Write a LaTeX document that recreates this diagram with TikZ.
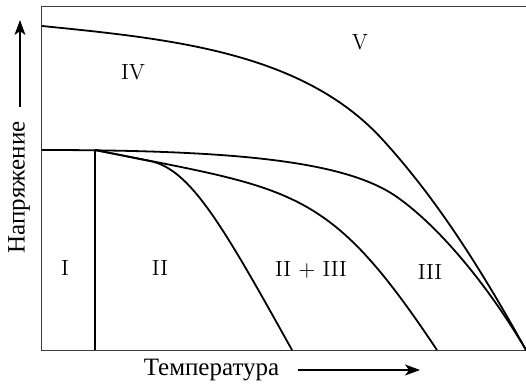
\documentclass[tikz,border=0pt]{standalone}
\usepackage{fontspec}
\usepackage{tikz}
\usetikzlibrary{arrows.meta, positioning}
\newfontfamily\cyrfont{Liberation Serif}
\definecolor{framegrey}{HTML}{3A3A3A}
\tikzset{
  boundary/.style={line width=0.9pt, black},
  frameline/.style={line width=0.5pt, framegrey},
  region/.style={font=\fontsize{11}{13}\selectfont, inner sep=1pt},
  axislabel/.style={font=\cyrfont\fontsize{12.5}{14}\selectfont, inner sep=1pt},
  axisarrow/.style={line width=0.6pt, -{Stealth[length=7.5pt, width=5.5pt, inset=2pt]}}
}

\begin{document}
\begin{tikzpicture}
  \useasboundingbox (-0.738,-0.615) rectangle (8.505,6.151);
  % frame
  \coordinate (origin) at (0,0);
  \coordinate (corner) at (8.505,0);
  \coordinate (topleft) at (0,6.028);
  \coordinate (topright) at (8.505,6.028);
  \draw[frameline] (topright) -- (topleft) -- (origin) -- (corner);
  % phase boundaries
  \coordinate (vstart) at (0,5.694);
  \coordinate (vbend) at (5.992,3.690);
  \coordinate (astart) at (0,3.515);
  \coordinate (abend) at (6.238,2.689);
  \coordinate (triple) at (0.931,3.515);
  \coordinate (csplit) at (1.898,3.321);
  \coordinate (bfoot) at (6.941,0);
  \coordinate (cfoot) at (4.393,0);
  \coordinate (foot) at (0.931,0);
  \draw[boundary] (vstart) .. controls (2.284,5.465) and (4.587,5.237) .. (vbend)
    .. controls (6.871,2.724) and (7.627,1.582) .. (corner);
  \draw[boundary] (astart) .. controls (3.515,3.515) and (5.360,3.304) .. (abend)
    .. controls (6.941,2.197) and (7.802,1.195) .. (corner);
  \draw[boundary] (triple) .. controls (4.446,2.812) and (5.008,2.900) .. (bfoot);
  \draw[boundary] (triple) -- (csplit) .. controls (2.601,3.181) and (3.163,2.214) .. (cfoot);
  \draw[boundary] (triple) -- (foot);
  % regions
  \node[region] (regI)     at (0.404,1.441) {I};
  \node[region] (regII)    at (2.074,1.441) {II};
  \node[region] (regIIIII) at (4.727,1.406) {II $+$ III};
  \node[region] (regIII)   at (6.818,1.371) {III};
  \node[region] (regIV)    at (1.599,4.885) {IV};
  \node[region] (regV)     at (5.588,5.413) {V};
  % axes
  \node[axislabel, rotate=90] (voltlabel) at (-0.404,2.856) {Напряжение};
  \node[axislabel] (templabel) at (2.979,-0.351) {Температура};
  \coordinate (vtail) at (-0.387,4.270);
  \coordinate (vhead) at (-0.387,5.799);
  \coordinate (ttail) at (4.499,-0.351);
  \coordinate (thead) at (6.643,-0.351);
  \draw[axisarrow] (vtail) -- (vhead);
  \draw[axisarrow] (ttail) -- (thead);
\end{tikzpicture}
\end{document}
